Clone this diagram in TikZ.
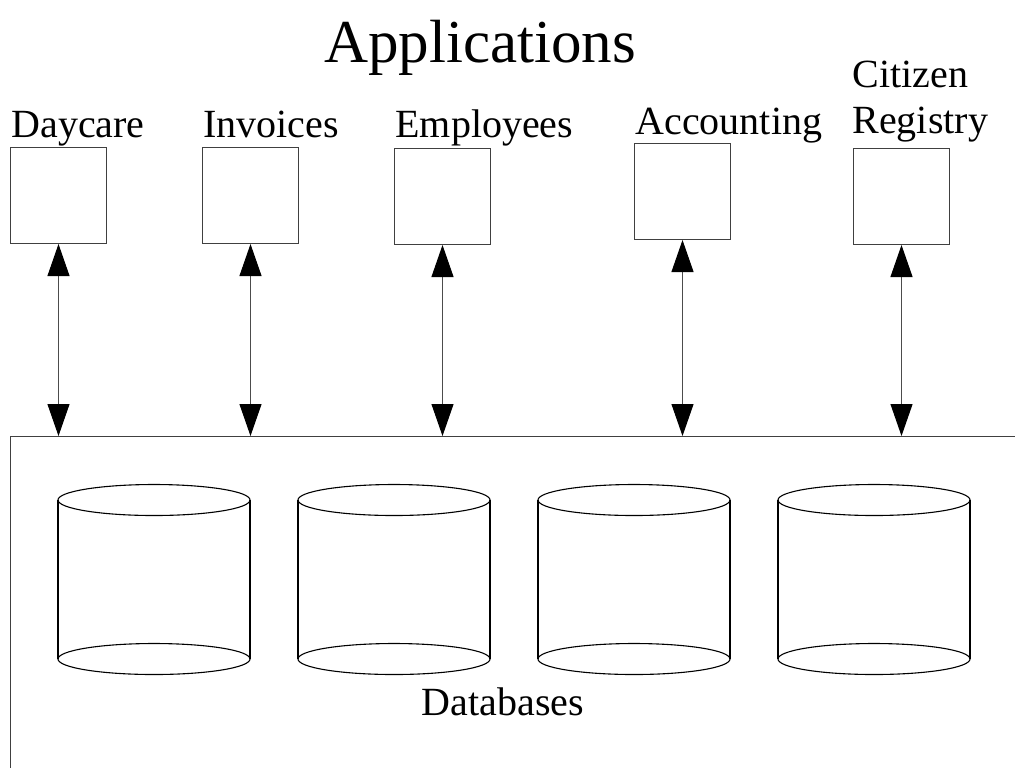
\documentclass[tikz,border=0pt]{standalone}
\usepackage{fontspec}
\setmainfont{Liberation Serif}
\usetikzlibrary{arrows.meta}
\begin{document}
\begin{tikzpicture}[x=0.5pt,y=-0.5pt,
  line width=0.5pt,
  appbox/.style={draw=black!75, rectangle, minimum width=48pt, minimum height=48pt,
    anchor=north west, inner sep=0pt},
  applabel/.style={anchor=base west, inner sep=0pt, font=\fontsize{20pt}{23pt}\selectfont, align=left},
  biarrow/.style={draw=black!70, {Triangle[length=16pt,width=11pt,color=black]}-{Triangle[length=16pt,width=11pt,color=black]}},
  drum/.style={draw=black, line width=0.55pt}]
\clip (0,0) rectangle (1015,767);

% heading
\node[anchor=base, inner sep=0pt, font=\fontsize{30.5pt}{36pt}\selectfont] (title) at (480,62) {Applications};

% application boxes and their names
\node[appbox] (daycare)   at (10,147)  {};
\node[appbox] (invoices)  at (202,147) {};
\node[appbox] (employees) at (394,148) {};
\node[appbox] (accounting) at (634,143) {};
\node[appbox] (registry)  at (853,148) {};

\node[applabel] (daycareL)    at (11,137)  {Daycare};
\node[applabel] (invoicesL)   at (203,137) {Invoices};
\node[applabel] (employeesL)  at (395,137) {Employees};
\node[applabel] (accountingL) at (635,134) {Accounting};
\node[applabel] (citizenL)    at (852,133) {Citizen\\Registry};

% database layer (open frame running off the page)
\coordinate (dbcorner) at (10,436);
\draw[black!75] (1030,436) -- (dbcorner) -- (10,780);

% links between applications and the database layer
\foreach \app in {daycare,invoices,employees,accounting,registry}
  \draw[biarrow] (\app.south) -- (\app.south |- dbcorner);

% database drums
\foreach \cx in {154,394,634,874} {
  \draw[drum] (\cx,500) ellipse [x radius=96, y radius=15.5];
  \draw[drum] (\cx,659) ellipse [x radius=96, y radius=15.5];
  \draw[drum] (\cx-96,500) -- (\cx-96,659);
  \draw[drum] (\cx+96,500) -- (\cx+96,659);
}

\node[anchor=base, inner sep=0pt, font=\fontsize{20pt}{23pt}\selectfont] (dblabel) at (503,715) {Databases};
\end{tikzpicture}
\end{document}
